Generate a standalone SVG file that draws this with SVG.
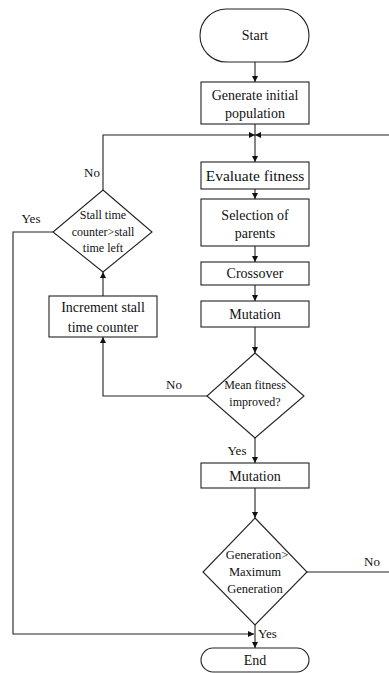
<svg xmlns="http://www.w3.org/2000/svg" width="389" height="673" viewBox="0 0 389 673">
<defs>
<marker id="arr" viewBox="0 0 8 8" refX="8" refY="4" markerWidth="6" markerHeight="6" orient="auto" markerUnits="userSpaceOnUse">
<path d="M0,0 L8,4 L0,8 Z" fill="#111"/>
</marker>
</defs>
<style>
.shape{fill:#fff;stroke:#222;stroke-width:1.1}
.conn{fill:none;stroke:#222;stroke-width:1.1}
text{font-family:"Liberation Serif","Times New Roman",serif;fill:#111;text-anchor:middle}
.t14{font-size:14px}
.t15{font-size:15.5px}
.t12{font-size:12px}
.t125{font-size:12.5px}
.lbl{font-size:13px}
.start{text-anchor:start}
</style>
<rect width="389" height="673" fill="#fff"/>
<g id="connectors">
<path class="conn" d="M255,62 V82" marker-end="url(#arr)"/>
<path class="conn" d="M255,124 V162" marker-end="url(#arr)"/>
<path class="conn" d="M103,190 V135 H255" marker-end="url(#arr)"/>
<path class="conn" d="M389,135 H255" marker-end="url(#arr)"/>
<path class="conn" d="M307,572 H389"/>
<path class="conn" d="M255,189 V199" marker-end="url(#arr)"/>
<path class="conn" d="M255,246 V262" marker-end="url(#arr)"/>
<path class="conn" d="M255,285 V301" marker-end="url(#arr)"/>
<path class="conn" d="M255,327 V353" marker-end="url(#arr)"/>
<path class="conn" d="M207,396 H103 V337" marker-end="url(#arr)"/>
<path class="conn" d="M103,296 V272" marker-end="url(#arr)"/>
<path class="conn" d="M53,232 H13 V634 H254" marker-end="url(#arr)"/>
<path class="conn" d="M255,438 V463" marker-end="url(#arr)"/>
<path class="conn" d="M255,488 V518" marker-end="url(#arr)"/>
<path class="conn" d="M255,625 V648" marker-end="url(#arr)"/>
<text class="lbl" x="92" y="177">No</text>
<text class="lbl" x="31" y="223">Yes</text>
<text class="lbl" x="174" y="389">No</text>
<text class="lbl" x="237" y="455">Yes</text>
<text class="lbl" x="372" y="566">No</text>
<text class="lbl start" x="258" y="638">Yes</text>
</g>
<g id="start">
<rect class="shape" x="200" y="9" width="109" height="53" rx="26.5"/>
<text class="t14" x="255" y="40">Start</text>
</g>
<g id="generate">
<rect class="shape" x="201" y="82" width="108" height="42"/>
<text class="t14" x="255" y="100">Generate initial</text>
<text class="t14" x="255" y="118">population</text>
</g>
<g id="evaluate">
<rect class="shape" x="201" y="162" width="108" height="27"/>
<text class="t15" x="255" y="181">Evaluate fitness</text>
</g>
<g id="selection">
<rect class="shape" x="201" y="199" width="108" height="47"/>
<text class="t14" x="255" y="220">Selection of</text>
<text class="t14" x="255" y="238">parents</text>
</g>
<g id="crossover">
<rect class="shape" x="201" y="262" width="108" height="23"/>
<text class="t14" x="255" y="278">Crossover</text>
</g>
<g id="mutation1">
<rect class="shape" x="201" y="301" width="108" height="26"/>
<text class="t14" x="255" y="319">Mutation</text>
</g>
<g id="mean">
<polygon class="shape" points="255,353 304,396 255,438 207,396"/>
<text class="t12" x="255" y="389">Mean fitness</text>
<text class="t12" x="255" y="406">improved?</text>
</g>
<g id="increment">
<rect class="shape" x="49" y="296" width="108" height="41"/>
<text class="t14" x="103" y="312">Increment stall</text>
<text class="t14" x="103" y="332">time counter</text>
</g>
<g id="stall">
<polygon class="shape" points="103,190 152,232 103,272 53,232"/>
<text class="t12" x="103" y="219">Stall time</text>
<text class="t12" x="103" y="236">counter&gt;stall</text>
<text class="t12" x="103" y="252">time left</text>
</g>
<g id="mutation2">
<rect class="shape" x="201" y="463" width="108" height="25"/>
<text class="t14" x="255" y="481">Mutation</text>
</g>
<g id="generation">
<polygon class="shape" points="255,518 307,572 255,625 203,572"/>
<text class="t125" x="257" y="559">Generation&gt;</text>
<text class="t125" x="255" y="576">Maximum</text>
<text class="t125" x="255" y="593">Generation</text>
</g>
<g id="end">
<rect class="shape" x="201" y="648" width="108" height="24" rx="12"/>
<text class="t14" x="255" y="665">End</text>
</g>
</svg>
